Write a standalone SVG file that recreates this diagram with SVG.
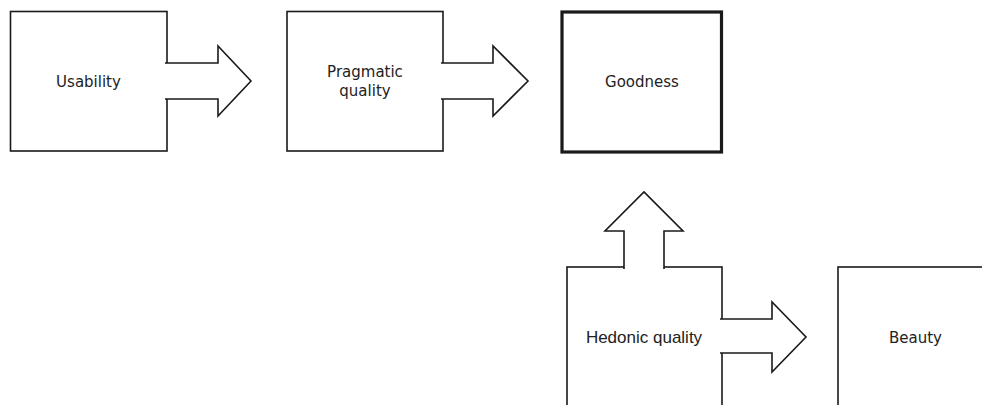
<svg xmlns="http://www.w3.org/2000/svg" width="982" height="405" viewBox="0 0 982 405">
<style>
.box{fill:#fff;stroke:#1a1a1a;stroke-width:1.6;stroke-linejoin:miter}
.bold{stroke-width:3.2}
.arr{fill:#fff;stroke:#1a1a1a;stroke-width:1.6;stroke-linejoin:miter}
.t{font-family:"DejaVu Sans",Verdana,sans-serif;font-size:15px;fill:#222;text-anchor:middle}
.ta{font-family:"Liberation Sans",Arial,sans-serif;font-size:17px;fill:#222;text-anchor:middle}
</style>
<rect width="982" height="405" fill="#fff"/>
<g id="usability"><rect class="box" x="10.5" y="11.5" width="156.5" height="139.5"/><text class="t" x="88.5" y="87">Usability</text></g>
<g id="pragmatic"><rect class="box" x="287" y="11.5" width="156" height="139.5"/><text class="t" x="365" y="77">Pragmatic</text><text class="t" x="365" y="96">quality</text></g>
<g id="goodness"><rect class="box bold" x="562" y="12" width="159.5" height="140"/><text class="t" x="642" y="87">Goodness</text></g>
<g id="hedonic"><rect class="box" x="567" y="267" width="155" height="160"/><text class="ta" x="644" y="343">Hedonic quality</text></g>
<g id="beauty"><rect class="box" x="838" y="267" width="170" height="160"/><text class="t" x="915.5" y="343">Beauty</text></g>
<g id="connectors">
<path class="arr" d="M165,63 H218 V46 L251,81 L218,116 V99 H165"/>
<path class="arr" d="M441,63 H493 V46 L528,81 L493,116 V99 H441"/>
<path class="arr" d="M624,269 V231 H605 L644,192 L683,231 H664 V269"/>
<path class="arr" d="M720,319 H772 V302 L806,337 L772,372 V353 H720"/>
</g>
</svg>
